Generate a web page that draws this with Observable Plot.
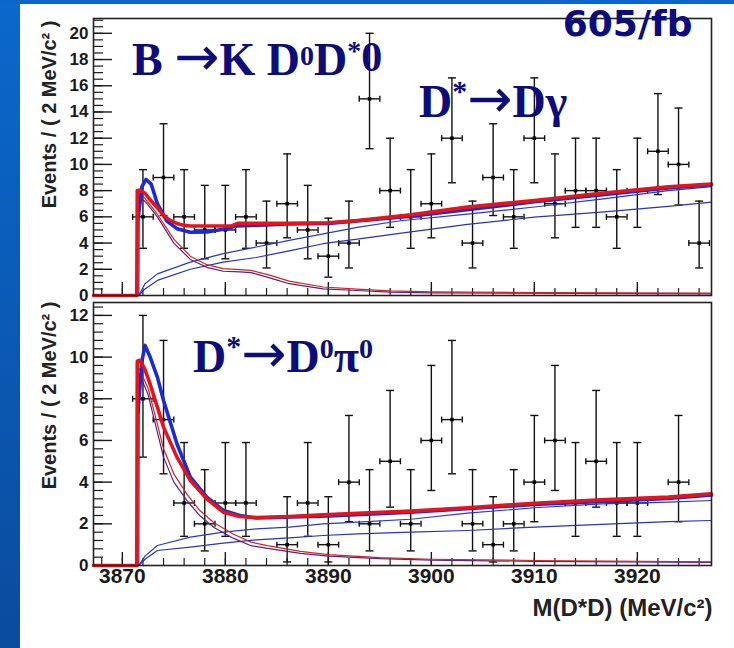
<!DOCTYPE html>
<html><head><meta charset="utf-8">
<script src="https://cdn.jsdelivr.net/npm/d3@7"></script>
<script src="https://cdn.jsdelivr.net/npm/@observablehq/plot@0.6"></script>
<style>
html,body{margin:0;padding:0;background:#fff;}
#page{position:relative;width:734px;height:648px;overflow:hidden;background:#fff;}
#leftbar{position:absolute;left:0;top:0;width:20px;height:648px;background:linear-gradient(#0b68cc,#0a4c9e);}
#topbar{position:absolute;left:0;top:0;width:734px;height:4px;background:#0b66cc;}
#top{position:absolute;left:0;top:0;}
#bottom{position:absolute;left:0;top:300px;}
svg{overflow:visible;}
</style></head><body>
<div id="page"><div id="top"></div><div id="bottom"></div><div id="leftbar"></div><div id="topbar"></div></div>
<script>
// ---- data ----
const massBins = [3872,3874,3876,3878,3880,3882,3884,3886,3888,3890,3892,3894,3896,3898,3900,3902,3904,3906,3908,3910,3912,3914,3916,3918,3920,3922,3924,3926];
const binHalfWidth = 1;
// D* -> D gamma
const gammaCounts = [6,9,6,5,5,6,4,7,5,3,4,15,8,6,7,12,4,9,6,12,7,8,8,6,8,11,10,4];
const gammaErrLow = [3.6,6.1,3.6,2.8,2.8,3.6,2.1,4.4,2.8,1.4,2.1,11.2,5.2,3.6,4.4,8.6,2.1,6.1,3.6,8.6,4.4,5.2,5.2,3.6,5.2,7.7,6.9,2.1];
const gammaErrHigh = [9.6,13.1,9.6,8.4,8.4,9.6,7.2,10.8,8.4,5.9,7.2,20.0,12.0,9.6,10.8,16.6,7.2,13.1,9.6,16.6,10.8,12.0,12.0,9.6,12.0,15.4,14.3,7.2];
// D* -> D0 pi0
const pi0Counts = [8,7,3,2,3,3,0,1,3,1,4,2,5,2,6,7,2,1,2,4,6,3,5,3,3,0,4,0];
const pi0ErrLow = [5.2,4.4,1.4,0.7,1.4,1.4,null,0.17,1.4,0.17,2.1,0.7,2.8,0.7,3.6,4.4,0.7,0.17,0.7,2.1,3.6,1.4,2.8,1.4,1.4,null,2.1,null];
const pi0ErrHigh = [12.0,10.8,5.9,4.6,5.9,5.9,null,3.3,5.9,3.3,7.2,4.6,8.4,4.6,9.6,10.8,4.6,3.3,4.6,7.2,9.6,5.9,8.4,5.9,5.9,null,7.2,null];

// fitted curves [mass, events]
const gammaTotalRed = [[3867.2,0],[3871.4,0],[3871.45,8.0],[3871.7,8.05],[3872.2,7.8],[3872.7,7.3],[3873.4,6.7],[3874,6.1],[3874.6,5.75],[3875.3,5.5],[3876,5.35],[3876.6,5.3],[3880.6,5.3],[3881.2,5.5],[3886,5.5],[3890,5.55],[3892.2,5.67],[3896,5.98],[3898,6.15],[3903.5,6.74],[3910,7.25],[3916.5,7.8],[3923,8.3],[3927.2,8.5]];
const gammaTotalBlue = [[3871.55,6.0],[3871.9,8.3],[3872.3,8.85],[3872.8,8.5],[3873.4,7.0],[3874.3,5.7],[3875.3,5.1],[3876.6,4.83],[3878.2,4.85],[3879.8,5.05],[3881.1,5.3],[3886,5.45],[3890,5.5],[3898,6.05],[3910,7.15],[3923,8.2],[3927.2,8.45]];
const gammaBkgUpper = [[3871.6,0],[3872.2,0.9],[3873.4,1.65],[3876.6,2.55],[3879.8,3.2],[3883,3.7],[3886.2,4.2],[3889.5,4.7],[3892.8,5.2],[3897,5.7],[3903.5,6.2],[3910,6.75],[3916.5,7.35],[3923,8.0],[3927.2,8.3]];
const gammaBkgLower = [[3871.6,0],[3872.2,0.5],[3873.4,1.15],[3876.6,2.0],[3879.8,2.55],[3883,2.9],[3886.2,3.4],[3889.5,3.95],[3892.8,4.3],[3898,4.85],[3903.5,5.42],[3910,5.98],[3916.5,6.36],[3923,6.8],[3927.2,7.13]];
const gammaSigRed = [[3871.45,0],[3871.5,7.9],[3872,7.6],[3873.4,6.2],[3875,4.3],[3876.6,3.0],[3878.2,2.35],[3879.8,2.05],[3881.4,1.98],[3882.5,1.92],[3884.3,1.55],[3886.2,1.1],[3889.5,0.65],[3892.8,0.48],[3896,0.35],[3900,0.28],[3910,0.22],[3927.2,0.18]];
const gammaSigPurple = [[3871.6,0],[3871.65,7.4],[3872.2,7.2],[3873.4,6.0],[3875,4.0],[3876.6,2.75],[3878.2,2.15],[3879.8,1.85],[3881.4,1.8],[3882.5,1.75],[3884.3,1.35],[3886.2,0.9],[3889.5,0.5],[3892.8,0.38],[3896,0.26],[3900,0.2],[3927.2,0.12]];

const pi0TotalRed = [[3867.2,0],[3871.4,0],[3871.45,9.8],[3871.7,9.85],[3872.2,9.4],[3872.7,8.7],[3873.4,7.6],[3874,6.64],[3875.3,5.2],[3876.6,4.08],[3878.2,3.2],[3879.8,2.56],[3881.4,2.35],[3883,2.3],[3886.2,2.35],[3889.5,2.43],[3892.8,2.51],[3898,2.61],[3903.5,2.77],[3910,2.99],[3916.5,3.15],[3923,3.28],[3927.2,3.44]];
const pi0TotalBlue = [[3871.5,7.3],[3871.9,9.8],[3872.2,10.56],[3872.7,10.0],[3873.4,9.04],[3874,7.92],[3875.3,5.84],[3876.6,4.24],[3878.2,3.28],[3879.8,2.64],[3881.4,2.4],[3883,2.28],[3890,2.38],[3898,2.56],[3910,2.93],[3923,3.22],[3927.2,3.38]];
const pi0BkgUpper = [[3871.6,0],[3872.2,0.45],[3873.4,0.96],[3876.6,1.36],[3879.8,1.6],[3883,1.76],[3886.2,1.84],[3889.5,2.0],[3892.8,2.08],[3898,2.22],[3903.5,2.51],[3910,2.77],[3916.5,2.96],[3923,3.04],[3927.2,3.12]];
const pi0BkgLower = [[3871.6,0],[3872.2,0.3],[3873.4,0.72],[3876.6,0.88],[3879.8,1.07],[3883,1.23],[3886.2,1.33],[3889.5,1.44],[3892.8,1.52],[3898,1.6],[3903.5,1.68],[3910,1.84],[3916.5,1.97],[3923,2.11],[3927.2,2.16]];
const pi0SigRed = [[3871.45,0],[3871.5,9.6],[3872.5,8.5],[3873.4,6.8],[3874,5.6],[3875,4.4],[3876.3,3.4],[3877.5,2.65],[3878.9,2.05],[3880.8,1.5],[3882.5,1.12],[3884.1,0.95],[3887.3,0.68],[3890,0.52],[3895,0.38],[3900,0.3],[3910,0.24],[3927.2,0.18]];
const pi0SigPurple = [[3871.6,0],[3871.65,9.2],[3872.5,8.2],[3873.4,6.4],[3874,5.2],[3875,4.0],[3876.3,3.1],[3877.5,2.4],[3878.9,1.82],[3880.8,1.3],[3882.5,0.95],[3884.1,0.82],[3887.3,0.58],[3890,0.45],[3895,0.33],[3900,0.26],[3910,0.2],[3927.2,0.15]];

// axis ticks / labels
const xDomain = [3867.2, 3927.2];
const xMajorTicks = [3870,3880,3890,3900,3910,3920];
const xMinorTicks = d3.range(3868, 3927, 2);
const gammaYMajor = [0,2,4,6,8,10,12,14,16,18,20];
const gammaYMinor = d3.range(0, 21.01, 0.5);
const pi0YMajor = [0,2,4,6,8,10,12];
const pi0YMinor = d3.range(0, 12.41, 0.4);
const yTitle = "Events / ( 2 MeV/c\u00B2 )";
const xTitle = "M(D*D) (MeV/c\u00B2)";

// ---- drawing ----
const W = 734, ML = 93, MR = 23;
const PW = W - ML - MR;
const sans = "'Liberation Sans', Arial, Helvetica, sans-serif";
const hcap = {draw(ctx, size){ const r = Math.sqrt(size/Math.PI); ctx.moveTo(-r,0); ctx.lineTo(r,0); }};
const vcap = {draw(ctx, size){ const r = Math.sqrt(size/Math.PI); ctx.moveTo(0,-r); ctx.lineTo(0,r); }};

function panel(o) {
  const PH = o.height - o.marginTop - o.marginBottom;
  const pts = massBins.map((x,i)=>({x, n:o.counts[i], lo:o.lo[i], hi:o.hi[i]})).filter(d=>d.n>0);
  const ink = "#1a1a1a";
  const line = (data, stroke, sw) => Plot.line(data, {x:d=>d[0], y:d=>d[1], stroke, strokeWidth:sw, strokeLinejoin:"round", strokeLinecap:"round"});
  const marks = [
    Plot.tickY(o.yMinor, {y:d=>d, insetRight:PW-10, stroke:ink, strokeWidth:1.2}),
    Plot.tickY(o.yMajor, {y:d=>d, insetRight:PW-19, stroke:ink, strokeWidth:1.4}),
    Plot.tickX(xMinorTicks, {x:d=>d, insetTop:PH-7, stroke:ink, strokeWidth:1.2}),
    Plot.tickX(xMajorTicks, {x:d=>d, insetTop:PH-13, stroke:ink, strokeWidth:1.4}),
    Plot.axisY(o.yMajor, {tickSize:0, tickPadding:5, fontSize:17, fontWeight:"bold", fontFamily:sans, fill:ink, label:null}),
    o.showX ? Plot.axisX(xMajorTicks, {tickSize:0, tickPadding:3, tickFormat:d=>String(d), fontSize:21, fontWeight:"bold", fontFamily:sans, fill:ink, label:null})
            : Plot.axisX({ticks:[], label:null}),
    // data
    Plot.ruleX(pts, {x:"x", y1:"lo", y2:"hi", stroke:"#111", strokeWidth:1.4}),
    Plot.ruleY(pts, {y:"n", x1:d=>d.x-binHalfWidth, x2:d=>d.x+binHalfWidth, stroke:"#111", strokeWidth:1.4}),
    Plot.dot(pts, {x:"x", y:"hi", symbol:hcap, r:4, stroke:"#111", strokeWidth:1.4, fill:"none"}),
    Plot.dot(pts, {x:"x", y:"lo", symbol:hcap, r:4, stroke:"#111", strokeWidth:1.4, fill:"none"}),
    Plot.dot(pts, {x:d=>d.x-binHalfWidth, y:"n", symbol:vcap, r:3, stroke:"#111", strokeWidth:1.4, fill:"none"}),
    Plot.dot(pts, {x:d=>d.x+binHalfWidth, y:"n", symbol:vcap, r:3, stroke:"#111", strokeWidth:1.4, fill:"none"}),
    Plot.dot(pts, {x:"x", y:"n", symbol:"square", r:2, fill:"#000", stroke:null}),
    // curves
    line(o.bkgLower, "#2a34b0", 1.2),
    line(o.bkgUpper, "#2a3ac0", 1.2),
    line(o.sigPurple, "#5a1f80", 1.2),
    line(o.sigRed, "#c8282c", 1.2),
    line(o.totalBlue, "#1a2ad4", 3.6),
    line(o.totalRed, "#e5141c", 3.6),
    Plot.frame({stroke:"#222", strokeWidth:1.6}),
    Plot.text([yTitle], {frameAnchor:"top-left", rotate:-90, textAnchor:"end", lineAnchor:"bottom", dx:-38, dy:o.titleDy, fontSize:20, fontWeight:"bold", fontFamily:sans, fill:"#222"}),
    ...(o.extra || [])
  ];
  return Plot.plot({
    width: W, height: o.height,
    marginLeft: ML, marginRight: MR, marginTop: o.marginTop, marginBottom: o.marginBottom,
    x: {domain: xDomain},
    y: {domain: [0, o.yMax]},
    style: {background:"transparent", overflow:"visible", fontFamily:sans},
    marks
  });
}

const arrowFont = "'DejaVu Sans', sans-serif";
function formula(svg, x, y, parts) {
  const t = d3.select(svg).append("text")
    .attr("x", x).attr("y", y)
    .attr("text-anchor", "start")
    .attr("font-family", "'Liberation Serif', 'Times New Roman', serif")
    .attr("font-weight", "bold").attr("font-size", 46).attr("fill", "#0c0c7a");
  let prev = 0;
  for (const [s, fs, raise, fam] of parts) {
    const ts = t.append("tspan").text(s).attr("font-size", fs);
    if (fam) ts.attr("font-family", fam).attr("font-weight", "normal");
    const dy = prev - raise;
    if (dy !== 0) ts.attr("dy", dy);
    prev = raise;
  }
}

const topSvg = panel({
  counts: gammaCounts, lo: gammaErrLow, hi: gammaErrHigh,
  totalRed: gammaTotalRed, totalBlue: gammaTotalBlue, bkgUpper: gammaBkgUpper, bkgLower: gammaBkgLower,
  sigRed: gammaSigRed, sigPurple: gammaSigPurple,
  yMajor: gammaYMajor, yMinor: gammaYMinor, yMax: 21.13,
  height: 300, marginTop: 18, marginBottom: 5, showX: false, titleDy: 2,
  extra: [Plot.text(["605/fb"], {frameAnchor:"top-right", textAnchor:"end", lineAnchor:"bottom", dx:-19, dy:17, fontSize:36, fontWeight:"bold", fontFamily:"'DejaVu Sans', Verdana, sans-serif", fill:"#0c0c80"})]
});
document.getElementById("top").appendChild(topSvg);

const botSvg = panel({
  counts: pi0Counts, lo: pi0ErrLow, hi: pi0ErrHigh,
  totalRed: pi0TotalRed, totalBlue: pi0TotalBlue, bkgUpper: pi0BkgUpper, bkgLower: pi0BkgLower,
  sigRed: pi0SigRed, sigPurple: pi0SigPurple,
  yMajor: pi0YMajor, yMinor: pi0YMinor, yMax: 12.62,
  height: 348, marginTop: 2, marginBottom: 83, showX: true, titleDy: -1,
  extra: [Plot.text([xTitle], {frameAnchor:"bottom-right", textAnchor:"end", lineAnchor:"bottom", dx:1, dy:50, fontSize:24, fontWeight:"bold", fontFamily:sans, fill:"#222"})]
});
document.getElementById("bottom").appendChild(botSvg);

// annotations
formula(topSvg, 132, 75, [["B ",46,0],["\u2192",54,0,arrowFont],["K D",46,0],["0",28,10],["D",46,0],["*",28,15],["0",42,4]]);
formula(topSvg, 419, 117, [["D",46,0],["*",30,16],["\u2192",54,0,arrowFont],["D\u03B3",46,0]]);
formula(botSvg, 193, 72, [["D",46,0],["*",30,16],["\u2192",54,0,arrowFont],["D",46,0],["0",28,14],["\u03C0",46,0],["0",28,14]]);
</script>
</body></html>
